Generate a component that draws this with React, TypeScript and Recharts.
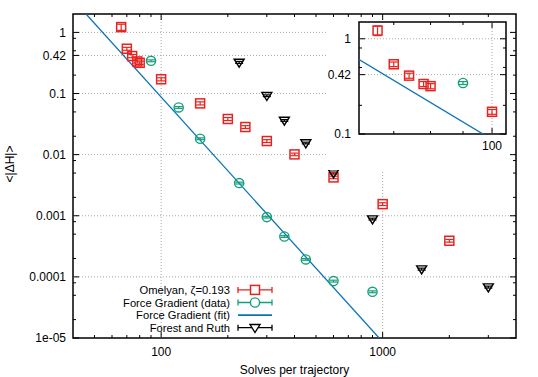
import React from 'react';
import {
  ComposedChart,
  Scatter,
  Line,
  XAxis,
  YAxis,
  ReferenceLine,
  ReferenceArea,
  ErrorBar,
} from 'recharts';

// ---------------- data ----------------
const omelyanX = [66, 70, 74, 78, 80, 100, 150, 200, 240, 300, 400, 600, 1000, 2000];
const omelyanY = [1.22, 0.54, 0.41, 0.335, 0.318, 0.171, 0.069, 0.0383, 0.0283, 0.0167, 0.0101, 0.00424, 0.00155, 0.00039];
const omelyanErr = [0.14, 0.03, 0.025, 0.02, 0.02, 0.01, 0.004, 0.0022, 0.0015, 0.0009, 0.0005, 0.0002, 0.00008, 0.00002];

const forceX = [90, 120, 150, 225, 300, 360, 450, 600, 900];
const forceY = [0.343, 0.0592, 0.0182, 0.00343, 0.00095, 0.000458, 0.000193, 0.0000853, 0.000057];
const forceErr = [0.012, 0.002, 0.0006, 0.00012, 0.00003, 0.000015, 0.000006, 0.000003, 0.000002];

const forestX = [225, 300, 360, 450, 600, 900, 1500, 3000];
const forestY = [0.323, 0.092, 0.0363, 0.0155, 0.005, 0.000883, 0.000134, 0.0000681];
const forestErr = [0.012, 0.003, 0.0012, 0.0005, 0.00018, 0.00003, 0.000005, 0.0000025];

// endpoints of the fitted power law
const fitX = [45.8, 964];
const fitY = [2.0, 1e-5];

// axes
const xDomain = [40, 4000];
const yDomain = [1e-5, 2];
const xMajor = [100, 1000];
const xMinor = [50, 60, 70, 80, 90, 200, 300, 400, 500, 600, 700, 800, 900, 2000, 3000];
const yMajor = [1e-5, 1e-4, 1e-3, 0.01, 0.1, 0.42, 1];
const yMajorLabels = ['1e-05', '0.0001', '0.001', '0.01', '0.1', '0.42', '1'];
const yMinor = [2e-5, 5e-5, 8e-5, 2e-4, 5e-4, 8e-4, 2e-3, 5e-3, 8e-3, 0.02, 0.05, 0.08, 0.2, 0.5, 0.8];

const insetXDomain = [61.7, 105.2];
const insetYDomain = [0.1, 1.5];
const insetXMajor = [100];
const insetXMinor = [70, 80, 90];
const insetYMajor = [0.1, 0.42, 1];
const insetYMajorLabels = ['0.1', '0.42', '1'];
const insetYMinor = [0.2, 0.5, 0.8];

const legendLabels = ['Omelyan, ζ=0.193', 'Force Gradient (data)', 'Force Gradient (fit)', 'Forest and Ruth'];

// ---------------- styles ----------------
const RED = '#e8231f';
const GREEN = '#15a07a';
const BLUE = '#0a74b8';
const BLACK = '#000000';
const GRID = '#a8a8a8';
const FONT = '"Liberation Sans", Arial, Helvetica, sans-serif';

const pts = (xs: number[], ys: number[], es: number[]) => xs.map((x, i) => ({ x, y: ys[i], e: es[i] }));
const omelyan = pts(omelyanX, omelyanY, omelyanErr);
const force = pts(forceX, forceY, forceErr);
const forest = pts(forestX, forestY, forestErr);
const fit = fitX.map((x, i) => ({ x, y: fitY[i] }));

const inDom = (p: { x: number; y: number }) =>
  p.x >= insetXDomain[0] && p.x <= insetXDomain[1] && p.y >= insetYDomain[0] && p.y <= insetYDomain[1];

// ---------------- markers ----------------
const squareShape = (color: string) => (p: any) => (
  <rect x={p.cx - 4.5} y={p.cy - 4.5} width={9} height={9} fill="none" stroke={color} strokeWidth={1.5} />
);
const circleShape = (color: string) => (p: any) => (
  <circle cx={p.cx} cy={p.cy} r={4.6} fill="none" stroke={color} strokeWidth={1.4} />
);
const triShape = (color: string) => (p: any) => (
  <polygon
    points={`${p.cx - 5},${p.cy - 3.2} ${p.cx + 5},${p.cy - 3.2} ${p.cx},${p.cy + 4.8}`}
    fill="none"
    stroke={color}
    strokeWidth={1.4}
  />
);

// ---------------- ticks ----------------
type Box = { left: number; right: number; top: number; bottom: number };
const MAIN: Box = { left: 73, right: 516, top: 14, bottom: 338 };
const INSET: Box = { left: 33, right: 180, top: 2, bottom: 114 };

const makeXTick = (box: Box, majors: number[], labels: string[], labelDy: number) => (props: any) => {
  const { x, payload } = props;
  const v = payload.value;
  const mi = majors.indexOf(v);
  const len = mi >= 0 ? 6 : 3;
  return (
    <g>
      <line x1={x} x2={x} y1={box.bottom} y2={box.bottom - len} stroke="#000" strokeWidth={1} />
      <line x1={x} x2={x} y1={box.top} y2={box.top + len} stroke="#000" strokeWidth={1} />
      {mi >= 0 && (
        <text x={x} y={box.bottom + labelDy} textAnchor="middle" fontFamily={FONT} fontSize={12} fill="#000">
          {labels[mi]}
        </text>
      )}
    </g>
  );
};

const makeYTick = (box: Box, majors: number[], labels: string[], labelDx: number) => (props: any) => {
  const { y, payload } = props;
  const v = payload.value;
  const mi = majors.indexOf(v);
  const len = mi >= 0 ? 6 : 3;
  return (
    <g>
      <line x1={box.left} x2={box.left + len} y1={y} y2={y} stroke="#000" strokeWidth={1} />
      <line x1={box.right} x2={box.right - len} y1={y} y2={y} stroke="#000" strokeWidth={1} />
      {mi >= 0 && (
        <text x={box.left - labelDx} y={y + 4.3} textAnchor="end" fontFamily={FONT} fontSize={12} fill="#000">
          {labels[mi]}
        </text>
      )}
    </g>
  );
};

const MainXTick = makeXTick(MAIN, xMajor, xMajor.map(String), 17.5);
const MainYTick = makeYTick(MAIN, yMajor, yMajorLabels, 7);
const InsetXTick = makeXTick(INSET, insetXMajor, insetXMajor.map(String), 16);
const InsetYTick = makeYTick(INSET, insetYMajor, insetYMajorLabels, 8);

// ---------------- legend ----------------
const Legend = () => {
  const colors = [RED, GREEN, BLUE, BLACK];
  const step = 12.6;
  const yLast = 327.7;
  const x1 = 238;
  const x2 = 272;
  const xm = 255;
  return (
    <g>
      {legendLabels.map((lab, i) => {
        const y = yLast - (legendLabels.length - 1 - i) * step;
        const c = colors[i];
        return (
          <g key={lab}>
            <text x={230} y={y + 4} textAnchor="end" fontFamily={FONT} fontSize={11.2} fill="#000">
              {lab}
            </text>
            <line x1={x1} x2={x2} y1={y} y2={y} stroke={c} strokeWidth={i === 2 ? 1.6 : 1.3} />
            {i !== 2 && (
              <>
                <line x1={x1} x2={x1} y1={y - 3} y2={y + 3} stroke={c} strokeWidth={1.3} />
                <line x1={x2} x2={x2} y1={y - 3} y2={y + 3} stroke={c} strokeWidth={1.3} />
              </>
            )}
            {i === 0 && <rect x={xm - 4.5} y={y - 4.5} width={9} height={9} fill="#fff" stroke={c} strokeWidth={1.5} />}
            {i === 1 && <circle cx={xm} cy={y} r={4.6} fill="#fff" stroke={c} strokeWidth={1.4} />}
            {i === 3 && (
              <polygon
                points={`${xm - 5},${y - 3.2} ${xm + 5},${y - 3.2} ${xm},${y + 4.8}`}
                fill="#fff"
                stroke={c}
                strokeWidth={1.4}
              />
            )}
          </g>
        );
      })}
    </g>
  );
};

// ---------------- app ----------------
export default function App() {
  return (
    <div style={{ position: 'absolute', left: 0, top: 0, width: 538, height: 377, background: '#fff' }}>
      <div style={{ position: 'absolute', left: 0, top: 0 }}>
        <ComposedChart width={538} height={377} margin={{ top: 14, right: 22, left: 0, bottom: 0 }}>
          <XAxis
            type="number"
            dataKey="x"
            scale="log"
            domain={xDomain}
            allowDataOverflow
            ticks={[...xMajor, ...xMinor]}
            interval={0}
            tick={MainXTick}
            tickLine={false}
            axisLine={false}
            height={39}
          />
          <YAxis
            type="number"
            dataKey="y"
            scale="log"
            domain={yDomain}
            allowDataOverflow
            ticks={[...yMajor, ...yMinor]}
            interval={0}
            tick={MainYTick}
            tickLine={false}
            axisLine={false}
            width={73}
          />
          {yMajor.slice(1).map((v) => (
            <ReferenceLine key={'gy' + v} y={v} stroke={GRID} strokeDasharray="1 2" strokeWidth={1} />
          ))}
          {xMajor.map((v) => (
            <ReferenceLine key={'gx' + v} x={v} stroke={GRID} strokeDasharray="1 2" strokeWidth={1} />
          ))}
          <ReferenceArea
            x1={xDomain[0]}
            x2={xDomain[1]}
            y1={yDomain[0]}
            y2={yDomain[1]}
            fill="none"
            fillOpacity={0}
            stroke="#000"
            strokeWidth={1.5}
          />
          <Line data={fit} dataKey="y" type="linear" stroke={BLUE} strokeWidth={1.3} dot={false} isAnimationActive={false} />
          <Scatter data={omelyan} shape={squareShape(RED)} isAnimationActive={false}>
            <ErrorBar dataKey="e" direction="y" width={4} stroke={RED} strokeWidth={1.2} isAnimationActive={false} />
          </Scatter>
          <Scatter data={force} shape={circleShape(GREEN)} isAnimationActive={false}>
            <ErrorBar dataKey="e" direction="y" width={4} stroke={GREEN} strokeWidth={1.2} isAnimationActive={false} />
          </Scatter>
          <Scatter data={forest} shape={triShape(BLACK)} isAnimationActive={false}>
            <ErrorBar dataKey="e" direction="y" width={4} stroke={BLACK} strokeWidth={1.2} isAnimationActive={false} />
          </Scatter>
        </ComposedChart>
      </div>

      {/* inset */}
      <div style={{ position: 'absolute', left: 326, top: 20, width: 184, height: 150, background: '#fff' }}>
        <ComposedChart width={184} height={150} margin={{ top: 2, right: 4, left: 0, bottom: 0 }}>
          <XAxis
            type="number"
            dataKey="x"
            scale="log"
            domain={insetXDomain}
            allowDataOverflow
            ticks={[...insetXMajor, ...insetXMinor]}
            interval={0}
            tick={InsetXTick}
            tickLine={false}
            axisLine={false}
            height={36}
          />
          <YAxis
            type="number"
            dataKey="y"
            scale="log"
            domain={insetYDomain}
            allowDataOverflow
            ticks={[...insetYMajor, ...insetYMinor]}
            interval={0}
            tick={InsetYTick}
            tickLine={false}
            axisLine={false}
            width={33}
          />
          {insetYMajor.slice(1).map((v) => (
            <ReferenceLine key={'igy' + v} y={v} stroke={GRID} strokeDasharray="1 2" strokeWidth={1} />
          ))}
          {insetXMajor.map((v) => (
            <ReferenceLine key={'igx' + v} x={v} stroke={GRID} strokeDasharray="1 2" strokeWidth={1} />
          ))}
          <ReferenceArea
            x1={insetXDomain[0]}
            x2={insetXDomain[1]}
            y1={insetYDomain[0]}
            y2={insetYDomain[1]}
            fill="none"
            fillOpacity={0}
            stroke="#000"
            strokeWidth={1.5}
          />
          <Line data={fit} dataKey="y" type="linear" stroke={BLUE} strokeWidth={1.3} dot={false} isAnimationActive={false} />
          <Scatter data={omelyan.filter(inDom)} shape={squareShape(RED)} isAnimationActive={false}>
            <ErrorBar dataKey="e" direction="y" width={4} stroke={RED} strokeWidth={1.2} isAnimationActive={false} />
          </Scatter>
          <Scatter data={force.filter(inDom)} shape={circleShape(GREEN)} isAnimationActive={false}>
            <ErrorBar dataKey="e" direction="y" width={4} stroke={GREEN} strokeWidth={1.2} isAnimationActive={false} />
          </Scatter>
        </ComposedChart>
      </div>

      {/* legend and titles */}
      <svg width={538} height={377} style={{ position: 'absolute', left: 0, top: 0, pointerEvents: 'none' }}>
        <Legend />
        <text x={294.5} y={373.5} textAnchor="middle" fontFamily={FONT} fontSize={12} fill="#000">
          Solves per trajectory
        </text>
        <text
          x={0}
          y={0}
          transform="translate(14,164) rotate(-90)"
          textAnchor="middle"
          fontFamily={FONT}
          fontSize={12}
          fill="#000"
        >
          {'<|ΔH|>'}
        </text>
      </svg>
    </div>
  );
}
